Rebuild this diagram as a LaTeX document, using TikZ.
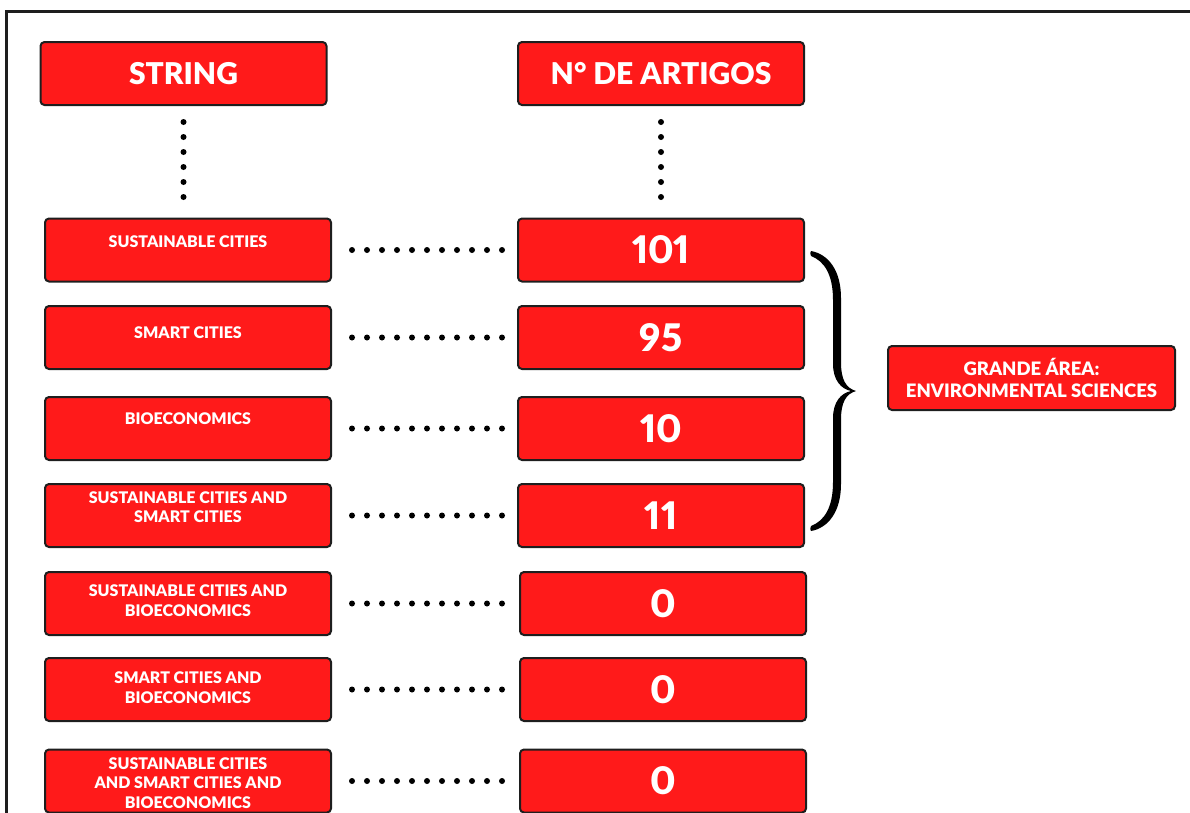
\documentclass[tikz,border=0pt]{standalone}
\usepackage{fontspec}
\setmainfont{Lato}[Numbers=Proportional, BoldFont={Lato Black}]
\usetikzlibrary{calc}
\definecolor{boxred}{RGB}{255,26,26}
\definecolor{boxline}{RGB}{30,30,30}
\tikzset{
    redbox/.style={draw=boxline, fill=boxred, line width=2pt, rounded corners=4pt,
        minimum width=286pt, minimum height=63pt, inner sep=0pt, text=white},
    headbox/.style={redbox, font=\fontsize{30}{36}\selectfont\bfseries},
    numbox/.style={redbox, font=\fontsize{38}{44}\selectfont\bfseries},
    strtext/.style={text=white, align=center, inner sep=0pt,
        font=\fontsize{16}{19.5}\selectfont\bfseries},
    areabox/.style={redbox, minimum width=287pt, minimum height=64pt, align=center,
        font=\fontsize{18.5}{22}\selectfont\bfseries},
    dotline/.style={line width=6pt, line cap=round, dash pattern=on 0pt off 15pt}
}

\begin{document}
\begin{tikzpicture}[x=1pt,y=-1pt]
    \useasboundingbox (0,0) rectangle (1190,812);
    \clip (0,0) rectangle (1190,812);
    % outer frame
    \draw[line width=3pt, boxline] (6,11) rectangle (1220,840);

    % headers
    \node[headbox] (string) at (183.5,73.5) {STRING};
    \node[headbox] (artigos) at (661,73.5) {N° DE ARTIGOS};

    % strings
    \node[redbox, label={[strtext, yshift=8pt]center:SUSTAINABLE CITIES}] (s1) at (188,250) {};
    \node[redbox, label={[strtext, yshift=4.5pt]center:SMART CITIES}] (s2) at (188,337.5) {};
    \node[redbox, label={[strtext, yshift=9.5pt]center:BIOECONOMICS}] (s3) at (188,428.5) {};
    \node[redbox, label={[strtext, yshift=8.5pt]center:SUSTAINABLE CITIES AND\\SMART CITIES}] (s4) at (188,515.5) {};
    \node[redbox, label={[strtext, yshift=3pt]center:SUSTAINABLE CITIES AND\\BIOECONOMICS}] (s5) at (188,603.5) {};
    \node[redbox, label={[strtext, yshift=2pt]center:SMART CITIES AND\\BIOECONOMICS}] (s6) at (188,689.5) {};
    \node[redbox, label={[strtext, yshift=-2pt]center:SUSTAINABLE CITIES\\AND SMART CITIES AND\\BIOECONOMICS}] (s7) at (188,781) {};

    % number of articles
    \node[numbox] (n1) at (661,250) {101};
    \node[numbox] (n2) at (661,337.5) {95};
    \node[numbox] (n3) at (661,428.5) {10};
    \node[numbox] (n4) at (661,515.5) {11};
    \node[numbox] (n5) at (663,603.5) {0};
    \node[numbox] (n6) at (663,689.5) {0};
    \node[numbox] (n7) at (663,781) {0};

    \node[areabox] (area) at (1031.5,378) {GRANDE ÁREA:\\ENVIRONMENTAL SCIENCES};

    % dotted links
    \draw[dotline, shorten <=16pt, shorten >=19.5pt] (string.south) -- (string.south |- s1.north);
    \draw[dotline, shorten <=16pt, shorten >=19.5pt] (artigos.south) -- (artigos.south |- n1.north);
    \draw[dotline, shorten <=20pt, shorten >=14pt] (s1) -- (n1);
    \draw[dotline, shorten <=20pt, shorten >=14pt] (s2) -- (n2);
    \draw[dotline, shorten <=20pt, shorten >=14pt] (s3) -- (n3);
    \draw[dotline, shorten <=20pt, shorten >=14pt] (s4) -- (n4);
    \draw[dotline, shorten <=20pt, shorten >=14pt] (s5) -- (n5);
    \draw[dotline, shorten <=20pt, shorten >=14pt] (s6) -- (n6);
    \draw[dotline, shorten <=20pt, shorten >=14pt] (s7) -- (n7);

    % brace
    \fill (811,251) .. controls (828,254) and (841,270) .. (841,298)
        -- (841,362) .. controls (841,380) and (846,388) .. (856,391)
        .. controls (846,394) and (841,402) .. (841,420)
        -- (841,484) .. controls (841,512) and (828,528) .. (811,531)
        .. controls (810,530) and (810,528) .. (811,526)
        .. controls (824,521) and (833,508) .. (833,482)
        -- (833,418) .. controls (833,402) and (841,393) .. (851,391)
        .. controls (841,389) and (833,380) .. (833,364)
        -- (833,300) .. controls (833,274) and (824,261) .. (811,256)
        .. controls (810,254) and (810,252) .. (811,251) -- cycle;
\end{tikzpicture}
\end{document}
